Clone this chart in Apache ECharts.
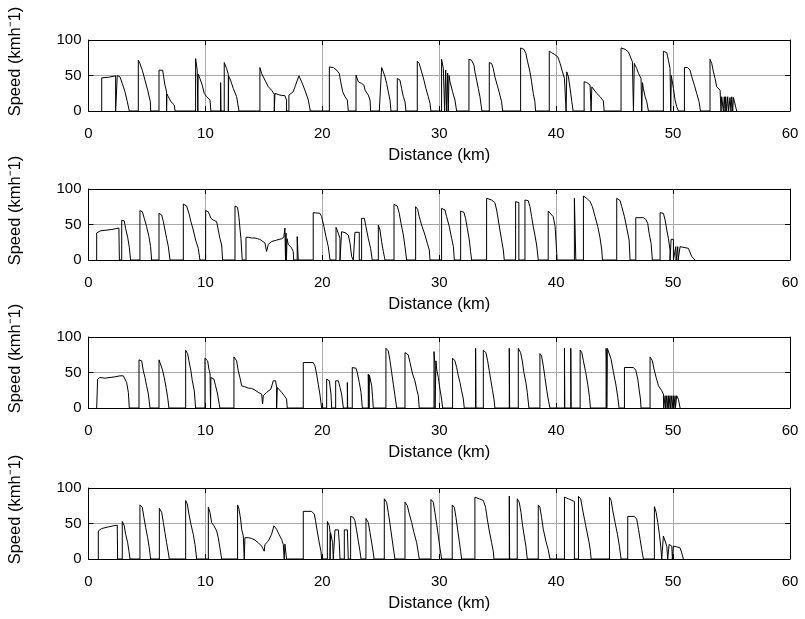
<!DOCTYPE html>
<html>
<head>
<meta charset="utf-8">
<script src="https://cdn.jsdelivr.net/npm/echarts@6/dist/echarts.min.js"></script>
<style>
html,body{margin:0;padding:0;background:#fff;}
#chart{width:805px;height:619px;}
</style>
</head>
<body>
<div id="chart"></div>
<script>
// Axis settings shared by the four speed traces
const distanceRange = [0, 60];
const distanceStep = 10;
const speedRange = [0, 100];
const speedStep = 50;
const xTitle = 'Distance (km)';
const yTitle = 'Speed (kmh\u207B1)';

// Speed traces: [distance km, speed km/h]
const run1 = [
  [1.13,0],[1.13,46.7],[1.7,47.5],[2.32,49.5],[2.32,0],[2.40,0],[2.46,50],[2.55,52.3],[2.69,48.1],[2.89,38.8],[3.12,27.1],[3.32,13.1],[3.49,0],
  [4.26,0],[4.26,71.5],[4.40,66.8],[4.60,57.5],[4.83,43.5],[5.06,29.4],[5.29,13.1],[5.32,0],
  [6.03,0],[6.03,57.5],[6.34,57.5],[6.43,48.1],[6.54,36.4],[6.68,27.1],[6.68,0],[6.70,24],[6.83,20.1],[7.05,13.1],[7.34,8.4],[7.40,0],
  [9.16,0],[9.16,73.8],[9.30,57.5],[9.35,0],[9.38,52],[9.53,45.8],[9.73,36.4],[9.90,24.8],[10.10,20.1],[10.39,15.4],[10.47,0],
  [11.30,0],[11.30,40],[11.33,0],[11.61,0],[11.61,68.2],[11.81,59.8],[11.96,51.4],[11.96,0],[11.99,49],[12.15,43.5],[12.38,31.8],[12.67,20.1],[12.87,0],
  [14.66,0],[14.66,61.2],[14.81,52.8],[15.09,43.5],[15.38,34.1],[15.66,29.4],[15.89,23.4],[15.89,0],[15.92,0],[15.95,24.8],[16.37,22.4],[16.80,21.5],[16.94,15.4],[16.94,0],
  [17.14,0],[17.14,22.4],[17.51,27.1],[17.71,36.4],[18.0,49.5],[18.23,41.1],[18.51,29.4],[18.80,15.4],[18.97,0],
  [20.60,0],[20.60,62.1],[20.94,61.2],[21.23,57.5],[21.45,52.8],[21.57,41.1],[21.74,27.1],[21.94,20.1],[22.14,15.4],[22.22,0],
  [22.88,0],[22.88,50.5],[23.08,41.1],[23.36,38.8],[23.56,36.4],[23.65,29.4],[23.93,22.4],[24.08,15.4],[24.13,0],
  [24.87,0],[25.07,61.2],[25.22,55.1],[25.36,48.1],[25.50,38.8],[25.64,27.1],[25.79,15.4],[25.87,0],
  [26.41,0],[26.41,45.8],[26.64,43.5],[26.78,31.8],[26.93,20.1],[27.07,13.1],[27.15,0],
  [28.12,0],[28.12,70.1],[28.29,66.8],[28.49,55.1],[28.69,43.5],[28.86,31.8],[29.06,20.1],[29.21,10.7],[29.29,0],
  [30.20,0],[30.20,72.9],[30.35,59.8],[30.46,58],[30.46,0],[30.50,0],[30.55,57.5],[30.63,55],[30.63,0],[30.68,0],[30.72,53.5],[30.77,52.8],[30.77,0],[30.80,0],[30.84,50],[30.92,41.1],[31.14,27.1],[31.34,15.4],[31.49,0],
  [32.54,0],[32.54,72.9],[32.77,71.5],[32.97,64.5],[33.05,55.1],[33.20,43.5],[33.34,31.8],[33.48,20.1],[33.65,0],
  [34.28,0],[34.28,68.2],[34.48,66.8],[34.62,59.8],[34.76,48.1],[34.96,36.4],[35.19,22.4],[35.33,13.1],[35.42,0],
  [36.96,0],[36.96,88.8],[37.24,86.9],[37.41,80.8],[37.56,69.2],[37.76,55.1],[37.90,41.1],[38.04,24.8],[38.18,13.1],[38.24,0],
  [39.41,0],[39.41,84.1],[39.61,82.2],[39.89,79.4],[40.14,76.2],[40.34,66.8],[40.54,55.1],[40.71,45.8],[40.85,0],[40.91,55.1],[41.05,48.1],[41.19,31.8],[41.34,13.1],[41.45,0],
  [42.39,0],[42.39,41.1],[42.62,40.2],[42.90,36.4],[42.99,35.5],[42.99,0],[43.02,0],[43.05,34],[43.19,31.8],[43.47,24.8],[43.76,20.1],[44.04,14.0],[44.10,0],
  [45.55,0],[45.55,88.8],[45.90,86.9],[46.18,83.2],[46.52,69.2],[46.61,67],[46.61,0],[46.65,0],[46.68,67],[46.75,66.8],[46.89,59.8],[47.04,52.8],[47.26,45.8],[47.32,43],[47.32,0],[47.35,0],[47.38,40],[47.46,31.8],[47.61,20.1],[47.75,13.1],[47.89,0],
  [49.17,0],[49.17,84.1],[49.46,82.2],[49.60,71.5],[49.74,59.8],[49.80,57],[49.80,0],[49.83,0],[49.85,50],[49.89,45.8],[50.03,31.8],[50.17,15.4],[50.31,6.1],[50.46,0],
  [50.97,0],[50.97,61.2],[51.25,61.2],[51.45,57.5],[51.60,48.1],[51.82,36.4],[52.02,24.8],[52.22,13.1],[52.34,0],
  [53.16,0],[53.16,72.9],[53.31,66.8],[53.45,55.1],[53.59,45.8],[53.73,34.1],[53.88,31.8],[54.02,29.4],[54.10,0],[54.16,20.1],[54.25,19],[54.30,0],[54.38,20.1],[54.45,0],[54.50,20.1],[54.58,0],[54.67,20.1],[54.75,0],[54.87,19],[54.95,0],[55.02,20],[55.10,0],[55.16,19],[55.30,18],[55.44,0]
];

const run2 = [
  [0.70,0],[0.70,38],[1.0,41],[1.5,42],[2.0,43],[2.6,45],[2.64,0],
  [2.84,0],[2.84,56],[3.06,55],[3.18,44],[3.35,32],[3.49,18],[3.60,0],
  [4.40,0],[4.40,69.5],[4.60,68],[4.77,58.7],[4.97,47],[5.17,32.9],[5.31,18.8],[5.40,0],
  [6.03,0],[6.03,65.7],[6.26,63.4],[6.40,54],[6.54,42.3],[6.68,30.5],[6.83,18.8],[6.97,0],
  [8.11,0],[8.11,78.9],[8.39,76],[8.59,65.7],[8.76,54],[8.96,42.3],[9.16,28.2],[9.39,16.4],[9.53,0],
  [10.02,0],[10.02,69.5],[10.25,68],[10.47,58.7],[10.67,56.3],[10.96,54],[11.10,42.3],[11.24,30.5],[11.39,21.1],[11.47,0],
  [12.53,0],[12.53,76],[12.75,74],[12.87,60],[12.95,45],[13.04,30],[13.15,0],
  [13.47,0],[13.47,32],[13.67,32],[13.95,31],[14.24,31],[14.45,30],[14.66,29],[15.09,24],[15.23,12],[15.38,22],[15.66,26],[16.09,28],[16.52,30],[16.70,32],[16.80,45],[16.85,0],[16.89,38],[16.93,0],[16.98,30],[17.09,22],[17.37,17],[17.51,12],[17.55,0],[17.85,0],[17.85,33],[17.94,0],
  [19.22,0],[19.22,66.7],[19.80,65.7],[19.94,61],[20.14,47],[20.31,32.9],[20.51,18.8],[20.66,0],
  [21.17,0],[21.17,46],[21.37,37.6],[21.51,30],[21.51,0],[21.65,0],[21.65,39.9],[21.94,38.5],[22.22,35.2],[22.37,23.5],[22.51,4.7],[22.65,0],
  [22.79,0],[22.79,39],[23.16,39],[23.16,0],[23.36,0],[23.36,58.7],[23.59,58.7],[23.73,47],[23.93,30.5],[24.13,16.4],[24.27,0],
  [24.79,0],[24.79,49.3],[24.93,42.3],[25.07,25.8],[25.22,11.7],[25.36,0],
  [26.13,0],[26.13,78.4],[26.41,76],[26.58,65.7],[26.73,51.6],[26.93,35.2],[27.07,18.8],[27.21,0],
  [27.98,0],[27.98,75.1],[28.15,71.4],[28.29,61],[28.49,49.3],[28.78,35.2],[28.98,23.5],[29.15,14.1],[29.21,0],
  [30.20,0],[30.20,72.8],[30.49,70.4],[30.63,61],[30.86,47],[31.06,30.5],[31.21,18.8],[31.29,0],
  [31.83,0],[31.83,69],[32.11,67.1],[32.25,58.7],[32.40,44.6],[32.57,28.2],[32.68,11.7],[32.77,0],
  [34.05,0],[34.05,86.9],[34.48,84.5],[34.76,80.8],[34.91,70.4],[35.05,56.3],[35.19,42.3],[35.33,28.2],[35.48,14.1],[35.56,0],
  [36.53,0],[36.53,82.2],[36.81,80.8],[36.81,0],
  [37.33,0],[37.33,84.5],[37.61,83.6],[37.76,75.1],[37.90,61],[38.04,47],[38.18,35.2],[38.33,21.1],[38.47,0],
  [39.32,0],[39.32,69],[39.47,68],[39.75,61],[39.91,47],[40.05,9],[40.08,0],
  [41.56,0],[41.56,86.9],[41.68,86.9],[41.68,0],
  [42.33,0],[42.33,90.1],[42.62,86.9],[42.90,82.2],[43.10,75.1],[43.33,61],[43.56,47],[43.76,30.5],[43.90,14.1],[43.96,0],
  [45.18,0],[45.18,86.9],[45.47,83.6],[45.61,75.1],[45.84,61],[46.04,44.6],[46.24,28.2],[46.32,0],
  [46.81,0],[46.81,59.6],[47.46,59.6],[47.66,57.3],[47.83,51.6],[47.95,37.6],[48.12,23.5],[48.23,0],
  [48.89,0],[48.89,66.7],[49.17,65.7],[49.32,56.3],[49.46,42.3],[49.60,30.5],[49.74,14.1],[49.74,0],[49.83,0],[49.83,29.1],[50.03,29.1],[50.03,0],
  [50.20,0],[50.23,18.8],[50.26,0],[50.37,0],[50.40,18.8],[50.43,0],[50.57,0],[50.60,18.8],[50.74,18.8],[51.31,16.4],[51.45,14.1],[51.60,4.7],[51.88,0]
];

const run3 = [
  [0.70,0],[0.78,40.7],[0.98,43],[1.41,42],[1.84,43],[2.27,43.9],[2.69,45.3],[2.98,45.3],[3.12,43],[3.26,36],[3.41,22],[3.49,0],
  [4.32,0],[4.32,67.8],[4.55,66.4],[4.69,52.3],[4.83,43],[4.97,31.3],[5.12,19.6],[5.26,0],
  [6.03,0],[6.03,67.8],[6.20,66.4],[6.31,54.7],[6.48,43],[6.63,29],[6.77,15],[6.88,0],
  [8.31,0],[8.31,81.3],[8.48,76.6],[8.59,66.4],[8.76,52.3],[8.88,38.3],[9.05,24.3],[9.16,0],
  [9.96,0],[9.96,70.1],[10.19,66.4],[10.30,54.7],[10.40,48],[10.44,0],[10.47,0],[10.47,43],[10.53,43],[10.73,40.7],[10.87,31.3],[11.04,19.6],[11.24,0],
  [12.44,0],[12.44,72],[12.67,66.4],[12.81,52.3],[12.95,43],[13.10,31.3],[13.24,29],[13.38,29.9],[13.67,28],[13.95,27.6],[14.24,25.2],[14.52,22],[14.81,19.6],[14.89,5.6],[14.95,17.3],[15.23,22],[15.60,26.6],[15.80,38.3],[16.00,38.3],[16.09,29],[16.09,0],[16.12,0],[16.15,29],[16.23,29],[16.52,22],[16.74,17.3],[16.94,12.6],[17.00,0],
  [18.37,0],[18.37,64],[19.22,64],[19.37,59.3],[19.51,47.7],[19.65,33.6],[19.79,19.6],[19.94,0],
  [20.37,0],[20.37,40.7],[20.60,38.3],[20.74,19.6],[20.80,0],
  [21.14,0],[21.14,38.3],[21.37,38.3],[21.51,29],[21.65,19.6],[21.80,0],
  [22.14,0],[22.14,36],[22.17,0],
  [22.56,0],[22.56,57],[22.88,56],[22.99,50],[23.16,36],[23.31,22],[23.42,0],
  [23.93,0],[23.93,47.7],[24.00,0],[24.03,46],[24.08,45.3],[24.22,31.3],[24.30,15],[24.36,0],
  [25.44,0],[25.44,84.1],[25.64,80.4],[25.79,66.4],[25.93,50],[26.07,33.6],[26.21,17.3],[26.36,0],
  [27.07,0],[27.07,78],[27.35,74.8],[27.50,64],[27.72,47.7],[27.78,45],[27.92,38.3],[28.07,26.6],[28.21,17.3],[28.29,0],
  [29.55,0],[29.55,79.4],[29.64,60],[29.64,0],[29.68,0],[29.72,66.4],[29.78,54.7],[29.92,43],[30.06,26.6],[30.20,12.6],[30.29,0],
  [31.14,0],[31.14,70.1],[31.34,66.4],[31.49,57],[31.63,45.3],[31.77,36],[31.91,24.3],[32.06,12.6],[32.14,0],
  [33.11,0],[33.11,84.1],[33.14,0],
  [33.77,0],[33.77,81.3],[33.99,78],[34.14,66.4],[34.28,52.3],[34.42,38.3],[34.56,24.3],[34.68,12.6],[34.76,0],
  [35.99,0],[35.99,84.1],[36.02,0],
  [36.76,0],[36.76,84.1],[36.96,78],[37.10,66.4],[37.24,50],[37.41,36],[37.53,22],[37.67,0],
  [38.61,0],[38.61,76.6],[38.75,73.4],[38.90,59.3],[39.04,43],[39.18,26.6],[39.32,12.6],[39.47,0],
  [40.71,0],[40.71,84.1],[40.74,0],[41.25,0],[41.25,84.1],[41.28,0],
  [42.05,0],[42.05,81.3],[42.19,78],[42.33,66.4],[42.53,50],[42.70,33.6],[42.85,15],[42.93,0],
  [44.27,0],[44.27,84.1],[44.33,60],[44.33,0],[44.38,0],[44.38,84],[44.53,82.7],[44.70,68.7],[44.90,50],[45.10,33.6],[45.27,15],[45.38,0],
  [45.84,0],[45.84,57],[46.61,57],[46.81,53.3],[46.98,40.7],[47.09,26.6],[47.21,12.6],[47.26,0],
  [48.03,0],[48.03,72],[48.23,66.4],[48.37,54.7],[48.55,43],[48.75,31.3],[48.89,29],[49.03,24.3],[49.17,19.6],[49.20,0],
  [49.28,0],[49.32,17.3],[49.35,0],[49.43,0],[49.46,17.3],[49.49,0],[49.57,0],[49.60,17.3],[49.63,0],[49.71,0],[49.74,17.3],[49.77,0],
  [49.86,0],[49.89,17.3],[49.92,0],[50.00,0],[50.03,17.3],[50.06,0],[50.14,0],[50.17,17.3],[50.20,0],[50.28,0],[50.31,17.3],[50.40,16],[50.46,12],[50.60,0]
];

const run4 = [
  [0.84,0],[0.84,39.5],[1.13,42.9],[1.70,45.2],[2.12,46.7],[2.46,47.6],[2.49,0],
  [2.89,0],[2.89,52.9],[3.06,46.7],[3.18,34.8],[3.35,22.9],[3.46,11],[3.55,0],
  [4.40,0],[4.40,76.2],[4.60,72.9],[4.74,58.6],[4.89,44.3],[5.06,30],[5.20,15.7],[5.31,0],
  [6.06,0],[6.06,71.4],[6.26,65.7],[6.40,51.4],[6.54,37.1],[6.68,22.9],[6.83,8.6],[6.91,0],
  [8.31,0],[8.31,82.4],[8.45,77.6],[8.59,63.3],[8.76,49],[8.96,34.8],[9.11,20.5],[9.25,0],
  [10.25,0],[10.25,72.9],[10.39,65.7],[10.53,51.4],[10.73,46.7],[10.96,39.5],[11.10,30],[11.24,15.7],[11.39,0],
  [12.75,0],[12.75,76.2],[12.87,70.5],[13.01,56.2],[13.10,41.9],[13.24,32.4],[13.32,30],[13.32,0],[13.35,0],[13.38,30],[13.67,30],[13.95,29],[14.24,26.7],[14.52,22.9],[14.81,18.1],[15.03,11],[15.09,20.5],[15.38,25.2],[15.66,34.8],[15.86,46.7],[16.09,41.9],[16.29,34.8],[16.52,27.6],[16.66,20.5],[16.74,22.9],[16.74,0],[16.77,0],[16.80,21],[16.89,20.5],[16.94,0],
  [18.37,0],[18.37,67.1],[19.08,67.1],[19.31,63.3],[19.42,53.8],[19.56,39.5],[19.71,25.2],[19.88,11],[19.94,0],
  [20.43,0],[20.43,52.9],[20.60,46.7],[20.66,37.1],[20.66,0],[20.70,0],[20.70,37.1],[20.80,37.1],[20.88,22.9],[20.94,0],
  [21.08,0],[21.08,41],[21.37,41],[21.45,22.9],[21.51,0],
  [21.88,0],[21.88,41],[22.14,41],[22.22,0],
  [22.42,0],[22.42,60],[22.65,58.6],[22.79,53.8],[22.94,39.5],[23.08,25.2],[23.22,11],[23.31,0],
  [23.73,0],[23.73,57.1],[23.93,51.4],[24.08,37.1],[24.22,22.9],[24.36,8.6],[24.42,0],
  [25.30,0],[25.30,84.8],[25.50,80],[25.64,65.7],[25.79,49],[25.93,32.4],[26.07,15.7],[26.21,0],
  [27.07,0],[27.07,80],[27.27,75.2],[27.44,63.3],[27.64,51.4],[27.84,37.1],[28.07,22.9],[28.21,8.6],[28.29,0],
  [29.29,0],[29.29,83.8],[29.49,80],[29.63,65.7],[29.78,49],[29.92,32.4],[30.06,15.7],[30.20,0],
  [31.11,0],[31.11,76.2],[31.29,72.9],[31.43,58.6],[31.57,41.9],[31.71,25.2],[31.83,11],[31.91,0],
  [33.05,0],[33.05,87.1],[33.42,84.8],[33.77,82.4],[33.96,72.9],[34.11,56.2],[34.28,39.5],[34.48,22.9],[34.62,11],[34.68,0],
  [35.99,0],[35.99,88.6],[36.02,0],
  [36.67,0],[36.67,84.8],[36.84,80],[36.99,65.7],[37.13,46.7],[37.27,32.4],[37.41,18.1],[37.53,0],
  [38.47,0],[38.47,76.2],[38.61,72.9],[38.75,58.6],[38.90,41.9],[39.12,25.2],[39.32,13.3],[39.47,0],
  [40.71,0],[40.71,87.1],[41.05,84.8],[41.56,81],[41.56,0],
  [41.91,0],[41.91,88.1],[42.10,84.8],[42.25,70.5],[42.42,56.2],[42.62,39.5],[42.82,22.9],[42.93,11],[42.99,0],
  [44.56,0],[44.56,87.1],[44.70,82.4],[44.84,68.1],[45.04,51.4],[45.24,34.8],[45.41,18.1],[45.55,0],
  [46.12,0],[46.12,60],[46.69,60],[46.89,56.2],[47.04,41.9],[47.18,27.6],[47.32,13.3],[47.46,0],
  [48.40,0],[48.40,73.8],[48.55,65.7],[48.69,51.4],[48.83,34.8],[48.94,18.1],[49.03,0],[49.17,0],[49.17,32.4],[49.32,30],[49.46,18.1],[49.54,0],
  [49.66,0],[49.66,20.5],[49.89,18.1],[49.94,0],[50.03,0],[50.03,18.1],[50.31,17.1],[50.60,15.7],[50.74,8.6],[50.88,0]
];

const runs = [run1, run2, run3, run4];

// Panel layout (pixels)
const panelLeft = 88.5;
const panelRight = 15;
const panelTops = [40, 189, 337, 488];
const panelHeight = 71;
const yTitleX = 15;
const yTitleLift = 14;

const FONT = 'Liberation Sans, Arial, Helvetica, sans-serif';
const tickFont = { fontFamily: FONT, fontSize: 15, color: '#000' };
const titleFont = { fontFamily: FONT, fontSize: 16.5, color: '#000' };
const boxLine = { show: true, onZero: false, lineStyle: { color: '#000', width: 1 } };
const inTick = { show: true, inside: true, length: 5, lineStyle: { color: '#000', width: 1 } };
const gridLine = { show: true, lineStyle: { color: '#a8a8a8', width: 1, type: 'solid' } };

const grids = [], xAxes = [], yAxes = [], series = [], titles = [];
runs.forEach((run, i) => {
  grids.push({ left: panelLeft, right: panelRight, top: panelTops[i], height: panelHeight });
  // bottom axis with labels and title
  xAxes.push({
    gridIndex: i, type: 'value', position: 'bottom',
    min: distanceRange[0], max: distanceRange[1], interval: distanceStep,
    axisLine: boxLine, axisTick: inTick,
    axisLabel: Object.assign({ margin: 15 }, tickFont),
    splitLine: gridLine,
    name: xTitle, nameLocation: 'middle', nameGap: 36, nameTextStyle: titleFont
  });
  // top mirror axis (box edge + ticks)
  xAxes.push({
    gridIndex: i, type: 'value', position: 'top',
    min: distanceRange[0], max: distanceRange[1], interval: distanceStep,
    axisLine: boxLine, axisTick: inTick, axisLabel: { show: false }, splitLine: { show: false }
  });
  // left axis with labels
  yAxes.push({
    gridIndex: i, type: 'value', position: 'left',
    min: speedRange[0], max: speedRange[1], interval: speedStep,
    axisLine: boxLine, axisTick: inTick,
    axisLabel: Object.assign({ margin: 7 }, tickFont),
    splitLine: gridLine
  });
  // right mirror axis
  yAxes.push({
    gridIndex: i, type: 'value', position: 'right',
    min: speedRange[0], max: speedRange[1], interval: speedStep,
    axisLine: boxLine, axisTick: inTick, axisLabel: { show: false }, splitLine: { show: false }
  });
  series.push({
    type: 'line', xAxisIndex: i * 2, yAxisIndex: i * 2,
    data: run, showSymbol: false, symbol: 'none',
    lineStyle: { color: '#000', width: 1 }, z: 3
  });
  // rotated y-axis title
  titles.push({
    type: 'text', x: yTitleX, y: panelTops[i] + panelHeight / 2 - yTitleLift,
    rotation: Math.PI / 2,
    style: {
      text: yTitle, fill: '#000', fontFamily: FONT, fontSize: 16.5,
      align: 'center', verticalAlign: 'middle'
    }
  });
});

const chart = echarts.init(document.getElementById('chart'), null, { renderer: 'canvas' });
chart.setOption({
  backgroundColor: '#fff',
  animation: false,
  grid: grids,
  xAxis: xAxes,
  yAxis: yAxes,
  series: series,
  graphic: titles
});
</script>
</body>
</html>
